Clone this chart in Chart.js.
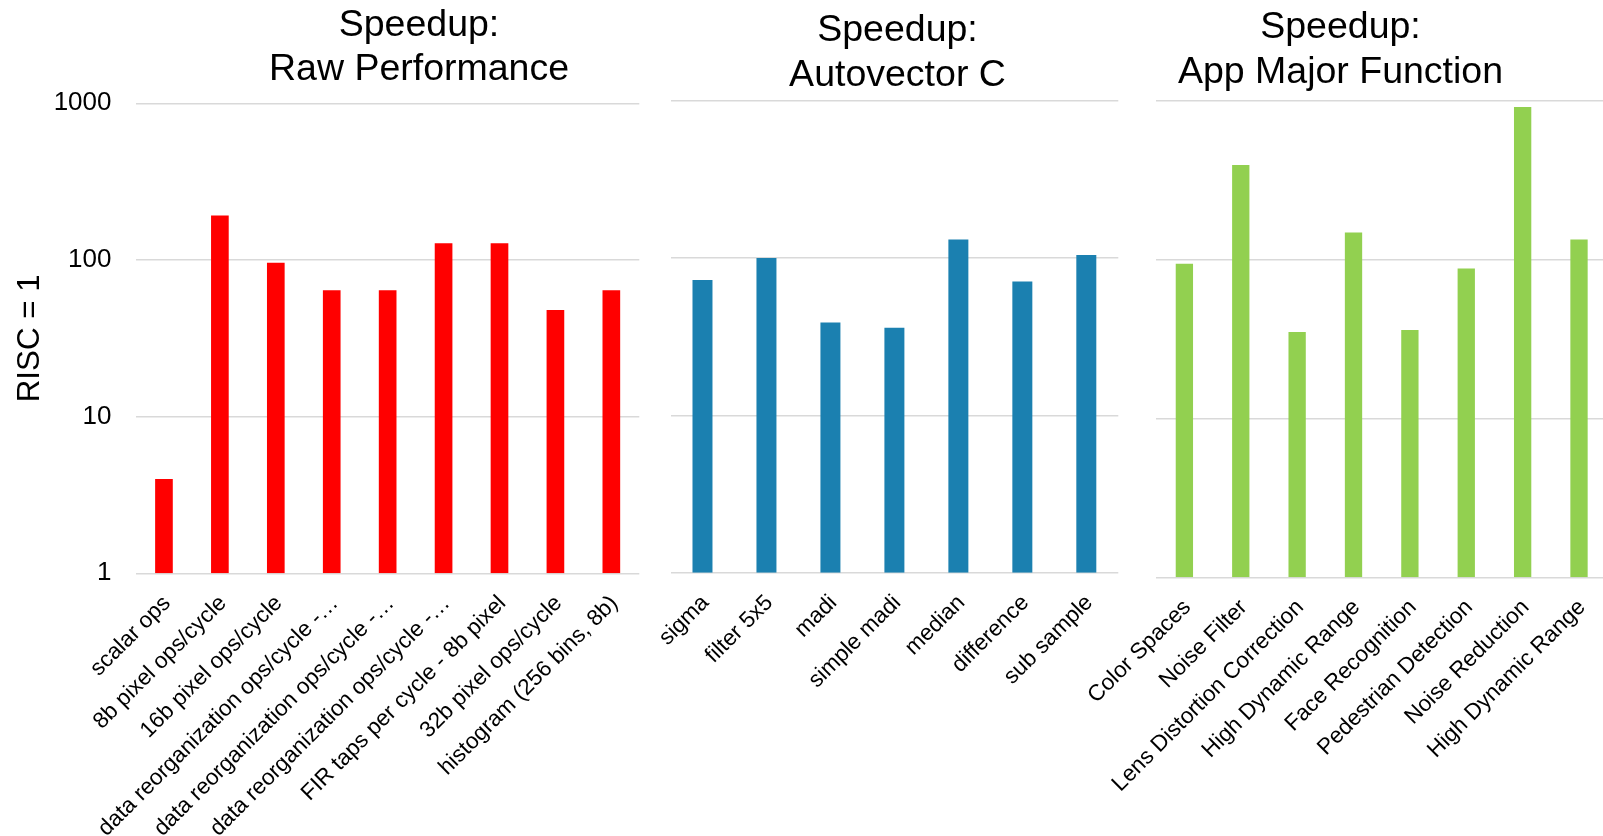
<!DOCTYPE html>
<html>
<head>
<meta charset="utf-8">
<script src="https://cdn.jsdelivr.net/npm/chart.js@4/dist/chart.umd.min.js"></script>
<style>
  html, body { margin: 0; padding: 0; background: #fff; overflow: hidden; }
  #wrap { position: relative; width: 1611px; height: 836px; }
  #wrap canvas { position: absolute; top: 0; }
</style>
</head>
<body>
<div id="wrap">
  <canvas id="raw"></canvas>
  <canvas id="auto"></canvas>
  <canvas id="app"></canvas>
</div>
<script>
// Speedup relative to RISC (RISC = 1), log scale
const rawLabels = [
  'scalar ops', '8b pixel ops/cycle', '16b pixel ops/cycle',
  'data reorganization ops/cycle -…', 'data reorganization ops/cycle -…',
  'data reorganization ops/cycle -…', 'FIR taps per cycle - 8b pixel',
  '32b pixel ops/cycle', 'histogram (256 bins, 8b)'
];
const rawValues = [4, 192, 96, 64, 64, 128, 128, 48, 64];

const autoLabels = ['sigma', 'filter 5x5', 'madi', 'simple madi', 'median', 'difference', 'sub sample'];
const autoValues = [72.5, 100, 39, 36, 131, 71, 104.5];

const appLabels = [
  'Color Spaces', 'Noise Filter', 'Lens Distortion Correction', 'High Dynamic Range',
  'Face Recognition', 'Pedestrian Detection', 'Noise Reduction', 'High Dynamic Range'
];
const appValues = [94, 394, 35, 148, 36, 88, 912, 134];

const yTickValues = [1, 10, 100, 1000];

const FONT = '"Liberation Sans", Arial, Helvetica, sans-serif';
const H = 836;

function zeroPad(s) {
  s.paddingLeft = 0; s.paddingRight = 0; s.paddingTop = 0; s.paddingBottom = 0;
}

function panel(id, p) {
  const cv = document.getElementById(id);
  cv.width = p.canvasWidth;
  cv.height = H;
  cv.style.left = p.canvasLeft + 'px';
  cv.style.width = p.canvasWidth + 'px';
  cv.style.height = H + 'px';

  const yWidth = p.plotLeft - p.canvasLeft;
  const rightWidth = p.canvasLeft + p.canvasWidth - p.plotRight;

  return new Chart(cv, {
    type: 'bar',
    data: {
      labels: p.labels,
      datasets: [{
        data: p.values,
        backgroundColor: p.color,
        borderWidth: 0,
        categoryPercentage: 1,
        barPercentage: p.barPct
      }]
    },
    options: {
      responsive: false,
      animation: false,
      devicePixelRatio: 1,
      layout: { padding: 0 },
      plugins: {
        legend: { display: false },
        tooltip: { enabled: false },
        title: {
          display: true,
          text: p.title,
          color: '#000',
          font: { family: FONT, size: 37.5, weight: 'normal', lineHeight: 1.187 },
          padding: { top: p.titleTop, bottom: p.titleBottom }
        }
      },
      scales: {
        x: {
          type: 'category',
          offset: true,
          grid: { display: false, drawTicks: false },
          border: { display: false },
          ticks: {
            autoSkip: false,
            minRotation: 45,
            maxRotation: 45,
            padding: 17,
            labelOffset: 3,
            color: '#000',
            font: { family: FONT, size: 22.5 }
          },
          afterFit(s) { s.height = H - p.plotBottom; zeroPad(s); }
        },
        y: {
          type: 'logarithmic',
          position: 'left',
          min: 1,
          max: 1000,
          afterBuildTicks(s) { s.ticks = yTickValues.map(v => ({ value: v })); },
          grid: { color: '#d9d9d9', lineWidth: 1.5, drawTicks: false },
          border: { display: false },
          ticks: {
            display: p.showY,
            padding: 24.5,
            color: '#000',
            font: { family: FONT, size: 26 },
            callback: v => String(v)
          },
          title: {
            display: p.showY,
            text: 'RISC = 1',
            color: '#000',
            font: { family: FONT, size: 31.3, lineHeight: 1.2 },
            padding: { top: 12, bottom: 0 }
          },
          afterFit(s) { s.width = yWidth; zeroPad(s); }
        },
        yr: {
          type: 'linear',
          position: 'right',
          display: true,
          grid: { display: false, drawTicks: false },
          border: { display: false },
          ticks: { display: false },
          afterFit(s) { s.width = rightWidth; zeroPad(s); }
        }
      }
    }
  });
}

panel('raw', {
  canvasLeft: 0, canvasWidth: 838,
  plotLeft: 136, plotRight: 639.3, plotBottom: 573.3,
  titleTop: 3, titleBottom: 11.3,
  title: ['Speedup:', 'Raw Performance'],
  labels: rawLabels, values: rawValues,
  color: '#ff0000', barPct: 0.316, showY: true
});

panel('auto', {
  canvasLeft: 650, canvasWidth: 495,
  plotLeft: 670.5, plotRight: 1118.3, plotBottom: 572.7,
  titleTop: 8.5, titleBottom: 3.2,
  title: ['Speedup:', 'Autovector C'],
  labels: autoLabels, values: autoValues,
  color: '#1b80b0', barPct: 0.3125, showY: false
});

panel('app', {
  canvasLeft: 1070, canvasWidth: 541,
  plotLeft: 1156.2, plotRight: 1607.2, plotBottom: 577.3,
  titleTop: 5.75, titleBottom: 5.95,
  title: ['Speedup:', 'App Major Function'],
  labels: appLabels, values: appValues,
  color: '#92d050', barPct: 0.307, showY: false
});
</script>
</body>
</html>
